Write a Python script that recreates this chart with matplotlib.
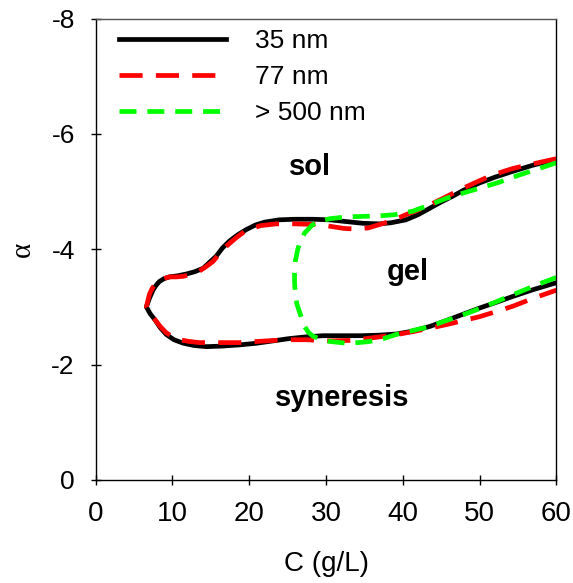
import matplotlib
matplotlib.use('Agg')
import matplotlib.pyplot as plt

plt.rcParams['font.family'] = ['Liberation Sans', 'DejaVu Sans']
plt.rcParams['axes.unicode_minus'] = False

# 35 nm: upper branch (right -> left) then lower branch (left -> right)
c_35 = [60, 57, 54.3, 52, 50, 48, 46.5, 45, 43.5, 42, 40.4, 38.5, 37, 34.8, 32.6, 30.5,
        28.3, 26, 23.9, 22, 20.8, 19.6, 18.5, 17.4, 16.5, 15.7, 14.8, 14, 12.9, 11.8,
        10.7, 9.6, 8.9, 8.3, 7.9, 7.5, 7.0, 6.6,
        7.1, 7.7, 8.4, 9.2, 10.2, 11.4, 12.8, 14.4, 16.5, 18.7, 21, 23.1, 25.2, 27.4,
        29.6, 31.8, 34.5, 37, 39.2, 41.3, 43.5, 45.6, 47.8, 50, 52.2, 54.3, 57, 60]
a_35 = [-5.56, -5.46, -5.35, -5.25, -5.15, -5.03, -4.92, -4.82, -4.71, -4.6, -4.51, -4.46, -4.44, -4.45, -4.48, -4.51,
        -4.52, -4.52, -4.51, -4.47, -4.42, -4.34, -4.25, -4.14, -4.02, -3.88, -3.77, -3.67, -3.61, -3.57,
        -3.54, -3.52, -3.49, -3.44, -3.38, -3.3, -3.15, -3.0,
        -2.88, -2.78, -2.64, -2.52, -2.43, -2.37, -2.33, -2.31, -2.32, -2.34, -2.37, -2.41, -2.45, -2.48,
        -2.5, -2.5, -2.5, -2.51, -2.53, -2.58, -2.66, -2.76, -2.87, -2.98, -3.08, -3.18, -3.3, -3.42]

# 77 nm
c_77 = [60, 56.9, 54.3, 51.7, 49.5, 47.4, 45.5, 43.5, 42, 40.4, 38.7, 37, 35.5, 33.9, 32.4, 30.9,
        29.6, 28.3, 26, 23.5, 21.5, 19.6, 18.3, 17.0, 16.1, 15.3, 14.4, 13.5, 12.5, 11.4,
        10.5, 9.6, 8.6, 7.9, 7.4, 7.0, 6.6,
        7.1, 7.7, 8.4, 9.2, 10.0, 10.9, 12.2, 13.5, 16, 18.7, 21, 23.5, 25.5, 27.4,
        30.5, 33.5, 37, 39.2, 41.3, 43.5, 45.6, 47.8, 50, 52.2, 54.3, 57, 60]
a_77 = [-5.57, -5.48, -5.4, -5.29, -5.16, -5.03, -4.9, -4.77, -4.68, -4.6, -4.5, -4.43, -4.37, -4.35, -4.36, -4.39,
        -4.42, -4.43, -4.44, -4.44, -4.41, -4.33, -4.2, -4.05, -3.92, -3.79, -3.7, -3.62, -3.57, -3.53,
        -3.52, -3.52, -3.48, -3.41, -3.33, -3.22, -3.0,
        -2.88, -2.78, -2.66, -2.55, -2.48, -2.43, -2.4, -2.38, -2.38, -2.38, -2.4, -2.42, -2.43, -2.43,
        -2.41, -2.42, -2.48, -2.52, -2.57, -2.63, -2.69, -2.76, -2.83, -2.92, -3.01, -3.15, -3.29]

# > 500 nm
c_500 = [60, 57.5, 55, 52.5, 50, 47.5, 45.6, 43.5, 41.3, 39, 37, 34.8, 32.6, 30.5, 29.2,
         28.2, 27.2, 26.6, 26.3, 26.0, 25.9, 25.9, 26.0, 26.2, 26.6, 27.2, 27.7, 28.3,
         29.3, 30.5, 32.6, 34.2, 35.7, 37.5, 39.1, 41.3, 43.5, 45.6, 47.8, 50, 52.2,
         54.3, 56.5, 58.2, 60]
a_500 = [-5.5, -5.39, -5.28, -5.16, -5.06, -4.96, -4.88, -4.77, -4.66, -4.6, -4.58, -4.57, -4.56, -4.53, -4.49,
         -4.42, -4.28, -4.12, -3.99, -3.79, -3.59, -3.42, -3.24, -3.05, -2.89, -2.66, -2.56, -2.49,
         -2.44, -2.4, -2.37, -2.38, -2.4, -2.45, -2.52, -2.59, -2.66, -2.76, -2.86, -2.97, -3.09,
         -3.21, -3.33, -3.42, -3.51]

labels = ['35 nm', '77 nm', '> 500 nm']
regions = ['sol', 'gel', 'syneresis']
region_pos = [(27.9, -5.43), (40.6, -3.61), (32.1, -1.42)]

fig = plt.figure(figsize=(5.73, 5.83), dpi=100)
ax = fig.add_axes([0.167, 0.177, 0.804, 0.791])

ax.plot(c_35, a_35, color='black', lw=3.4, label=labels[0])
ax.plot(c_77, a_77, color='#ff0000', lw=3.4, dashes=(4.9, 2.8), label=labels[1])
ax.plot(c_500, a_500, color='#00ff00', lw=3.4, dashes=(3.6, 2.3), label=labels[2])

for txt, (x, y) in zip(regions, region_pos):
    ax.text(x, y, txt, fontsize=21, fontweight='bold', ha='center', va='center')

ax.set_xlim(0, 60)
ax.set_ylim(0, -8)
ax.set_xticks(range(0, 61, 10))
ax.set_yticks(range(0, -9, -2))
ax.tick_params(direction='inout', length=7, width=1)
ax.tick_params(axis='x', pad=12, labelsize=20)
ax.tick_params(axis='y', pad=11.5, labelsize=19)
for s in ax.spines.values():
    s.set_linewidth(1)
ax.spines['top'].set_color('#555555')

ax.set_xlabel('C (g/L)', fontsize=20, labelpad=17)
ax.set_ylabel('α', fontsize=21, family=['Liberation Serif', 'DejaVu Serif'], labelpad=11)

ax.legend(loc='upper left', bbox_to_anchor=(0.022, 1.006), frameon=False, fontsize=19,
          handlelength=4.05, handletextpad=1.1, labelspacing=0.46, borderaxespad=0.1)

fig.savefig('out.png', dpi=100)
